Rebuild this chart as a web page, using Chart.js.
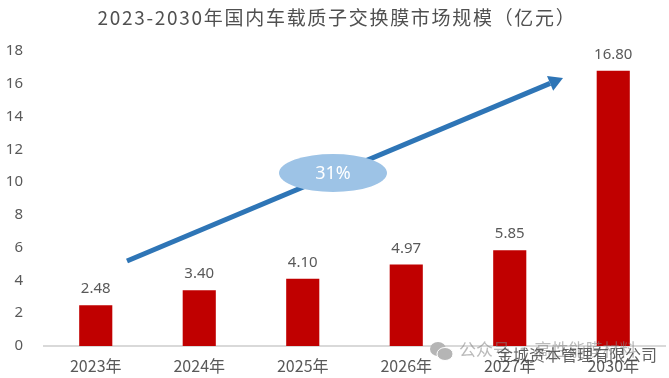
<!DOCTYPE html>
<html>
<head>
<meta charset="utf-8">
<script src="https://cdn.jsdelivr.net/npm/chart.js@4/dist/chart.umd.min.js"></script>
<style>
  html, body { margin: 0; padding: 0; background: #fff; }
  #wrap { position: relative; width: 669px; height: 378px; }
</style>
</head>
<body>
<div id="wrap"><canvas id="c" width="669" height="378"></canvas></div>
<script>
const categories = ['2023年', '2024年', '2025年', '2026年', '2027年', '2030年'];
const values = [2.48, 3.40, 4.10, 4.97, 5.85, 16.80];
const yTicks = [0, 2, 4, 6, 8, 10, 12, 14, 16, 18];
const titleText = '2023-2030年国内车载质子交换膜市场规模（亿元）';
const badgeText = '31%';
const watermarkTop = '公众号 · 高性能膜材料';
const watermarkBottom = '金城资本管理有限公司';

const FONT = '"Noto Sans CJK SC", "Noto Sans", sans-serif';
const TEXT = '#595959';

// Everything the library has no element for: title, value labels, arrow, badge, watermark
const overlay = {
  id: 'overlay',
  afterDatasetsDraw(chart) {
    const { ctx, scales: { x, y } } = chart;
    ctx.save();

    ctx.fillStyle = '#505050';
    ctx.font = '19px ' + FONT;
    ctx.letterSpacing = '1.7px';
    ctx.textAlign = 'center';
    ctx.textBaseline = 'middle';
    ctx.fillText(titleText, 337, 18);
    ctx.letterSpacing = '0px';

    // value labels
    ctx.fillStyle = TEXT;
    ctx.font = '15px "Noto Sans", sans-serif';
    ctx.textBaseline = 'alphabetic';
    values.forEach((v, i) => {
      ctx.fillText(v.toFixed(2), x.getPixelForValue(i), y.getPixelForValue(v) - 12);
    });

    // trend arrow
    const x0 = 127, y0 = 261, x1 = 563, y1 = 78;
    const ang = Math.atan2(y1 - y0, x1 - x0);
    const bx = x1 - 14 * Math.cos(ang), by = y1 - 14 * Math.sin(ang);
    ctx.strokeStyle = '#2e75b6';
    ctx.lineWidth = 5;
    ctx.beginPath();
    ctx.moveTo(x0, y0);
    ctx.lineTo(bx, by);
    ctx.stroke();
    ctx.fillStyle = '#2e75b6';
    ctx.beginPath();
    ctx.moveTo(x1, y1);
    ctx.lineTo(bx + 8 * Math.sin(ang), by - 8 * Math.cos(ang));
    ctx.lineTo(bx - 8 * Math.sin(ang), by + 8 * Math.cos(ang));
    ctx.closePath();
    ctx.fill();

    // badge
    ctx.fillStyle = '#9dc3e6';
    ctx.beginPath();
    ctx.ellipse(333, 173, 54, 19, 0, 0, Math.PI * 2);
    ctx.fill();
    ctx.fillStyle = '#ffffff';
    ctx.font = '18px "Noto Sans", sans-serif';
    ctx.textBaseline = 'middle';
    ctx.fillText(badgeText, 333, 174);

    // watermarks
    ctx.textAlign = 'left';
    ctx.fillStyle = 'rgba(130,130,130,0.55)';
    ctx.font = '17px ' + FONT;
    ctx.fillText(watermarkTop, 459, 350);
    ctx.fillStyle = 'rgba(70,70,70,0.85)';
    ctx.font = '16px ' + FONT;
    ctx.fillText(watermarkBottom, 497, 355);

    // wechat mark
    ctx.fillStyle = '#b5b5b5';
    ctx.beginPath();
    ctx.ellipse(438, 349, 8, 7, 0, 0, Math.PI * 2);
    ctx.fill();
    ctx.strokeStyle = '#fff';
    ctx.lineWidth = 1;
    ctx.beginPath();
    ctx.ellipse(445, 354, 8, 6.5, 0, 0, Math.PI * 2);
    ctx.fill();
    ctx.stroke();

    ctx.restore();
  }
};

new Chart(document.getElementById('c'), {
  type: 'bar',
  data: {
    labels: categories,
    datasets: [{ data: values, backgroundColor: '#c00000', barPercentage: 0.64, categoryPercentage: 0.5 }]
  },
  plugins: [overlay],
  options: {
    responsive: false,
    animation: false,
    layout: { padding: { top: 51, right: 4, bottom: 0, left: 1 } },
    plugins: { legend: { display: false }, tooltip: { enabled: false } },
    scales: {
      x: {
        afterFit(s) { s.height = 32; },
        grid: { display: false },
        border: { color: '#d9d9d9', width: 2 },
        ticks: { color: TEXT, font: { size: 16, family: FONT }, padding: 2, maxRotation: 0 }
      },
      y: {
        min: 0,
        max: 18,
        afterFit(s) { s.width = 43; },
        afterBuildTicks(s) { s.ticks = yTicks.map(v => ({ value: v })); },
        grid: { display: false },
        border: { display: false },
        ticks: { color: TEXT, font: { size: 15, family: '"Noto Sans", sans-serif' }, padding: 13 }
      }
    }
  }
});
</script>
</body>
</html>
